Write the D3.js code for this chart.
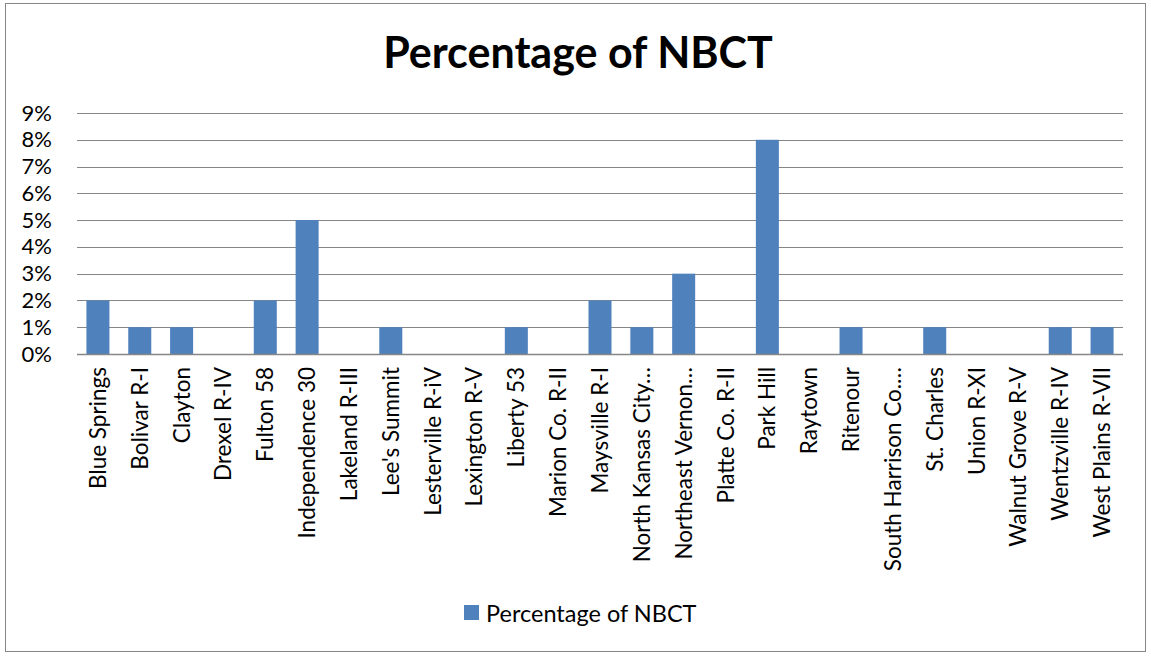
<!DOCTYPE html>
<html>
<head>
    <script src="https://d3js.org/d3.v7.min.js"></script>
    <style>
        body { margin: 0; background: #fff; }
        text { font-family: Lato, "Open Sans", sans-serif; fill: #000; }
    </style>
</head>
<body>
    <div id="chart"></div>
<script>
    // data
    const districts = ["Blue Springs", "Bolivar R-I", "Clayton", "Drexel R-IV", "Fulton 58",
        "Independence 30", "Lakeland R-III", "Lee's Summit", "Lesterville R-iV", "Lexington R-V",
        "Liberty 53", "Marion Co. R-II", "Maysville R-I", "North Kansas City\u2026", "Northeast Vernon\u2026",
        "Platte Co. R-II", "Park Hill", "Raytown", "Ritenour", "South Harrison Co.\u2026",
        "St. Charles", "Union R-XI", "Walnut Grove R-V", "Wentzville R-IV", "West Plains R-VII"];
    const pctNBCT = [2, 1, 1, 0, 2, 5, 0, 1, 0, 0, 1, 0, 2, 1, 3, 0, 8, 0, 1, 0, 1, 0, 0, 1, 1];
    const yTicks = [0, 1, 2, 3, 4, 5, 6, 7, 8, 9];
    const seriesName = "Percentage of NBCT";

    const W = 1151, H = 656;
    const margin = {top: 113, right: 28, bottom: 302, left: 77},
        width = W - margin.left - margin.right,
        height = H - margin.top - margin.bottom;

    const svg = d3.select("#chart").append("svg")
        .attr("width", W)
        .attr("height", H);

    // outer frame
    svg.append("rect")
        .attr("x", 5.5).attr("y", 3.5)
        .attr("width", W - 11).attr("height", H - 8)
        .attr("fill", "none")
        .attr("stroke", "#868686");

    // title
    svg.append("text")
        .attr("x", 578)
        .attr("y", 68)
        .attr("text-anchor", "middle")
        .style("font-size", "43px")
        .style("font-weight", "bold")
        .text(seriesName);

    const g = svg.append("g")
        .attr("transform", `translate(${margin.left},${margin.top})`);

    const x = d3.scaleBand()
        .domain(districts)
        .range([0, width])
        .padding(0);

    const y = d3.scaleLinear()
        .domain([0, 9])
        .range([height, 0]);

    // grid lines
    g.selectAll(".grid")
        .data(yTicks)
        .join("line")
        .attr("x1", 0).attr("x2", width)
        .attr("y1", d => Math.round(y(d)) + 0.5)
        .attr("y2", d => Math.round(y(d)) + 0.5)
        .attr("stroke", "#868686")
        .attr("stroke-width", 1.2);

    // y labels
    const yAxis = g.append("g")
        .call(d3.axisLeft(y).tickValues(yTicks).tickFormat(d => d + "%").tickSize(0).tickPadding(25));
    yAxis.select(".domain").remove();
    yAxis.selectAll("text")
        .style("font-size", "22px")
        .style("font-family", "Lato, 'Open Sans', sans-serif");

    // bars
    const barW = x.bandwidth() * 0.55;
    g.selectAll(".bar")
        .data(districts)
        .join("rect")
        .attr("x", (d) => x(d) + (x.bandwidth() - barW) / 2)
        .attr("y", (d, i) => y(pctNBCT[i]))
        .attr("width", barW)
        .attr("height", (d, i) => height - y(pctNBCT[i]))
        .attr("fill", "#4F81BD");

    // baseline
    g.append("line")
        .attr("x1", 0).attr("x2", width)
        .attr("y1", height + 0.5).attr("y2", height + 0.5)
        .attr("stroke", "#868686")
        .attr("stroke-width", 1.5);

    // x labels, rotated
    g.selectAll(".xlab")
        .data(districts)
        .join("text")
        .attr("transform", d => `translate(${x(d) + x.bandwidth() / 2 + 8},${height + 13}) rotate(-90)`)
        .attr("text-anchor", "end")
        .style("font-size", "22.5px")
        .text(d => d);

    // legend
    svg.append("rect")
        .attr("x", 464).attr("y", 605)
        .attr("width", 15).attr("height", 15)
        .attr("fill", "#4F81BD");
    svg.append("text")
        .attr("x", 486)
        .attr("y", 622)
        .style("font-size", "23.5px")
        .text(seriesName);
</script>
</body>
</html>
